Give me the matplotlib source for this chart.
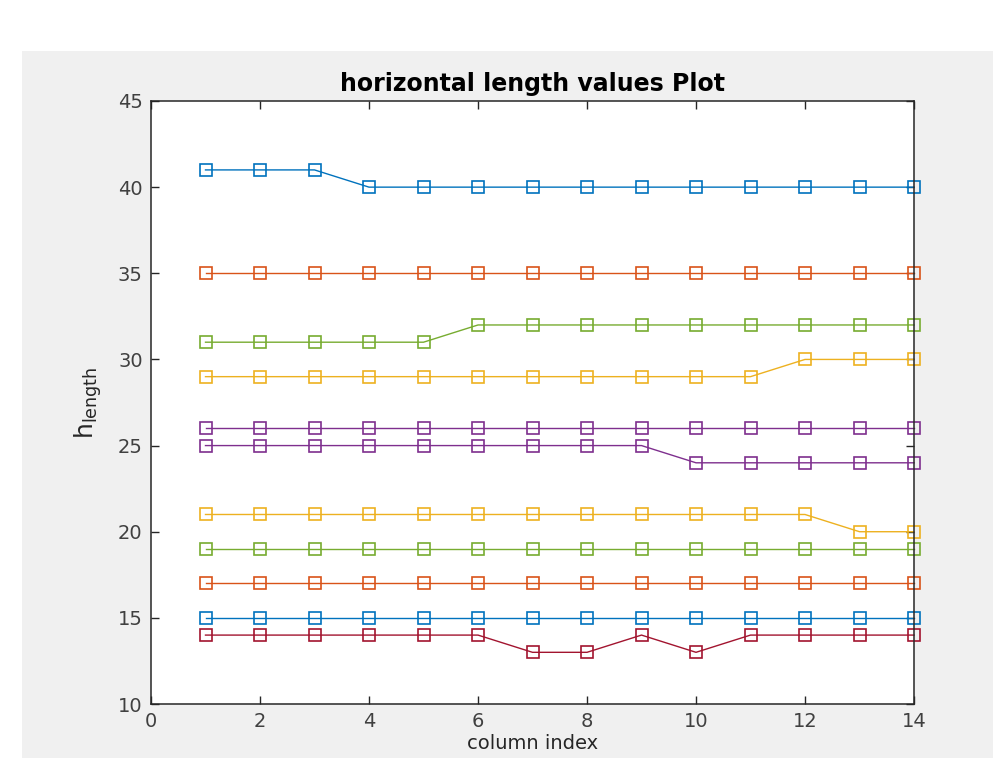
import numpy as np
import matplotlib
matplotlib.use('Agg')
from matplotlib import pyplot as plt
from matplotlib.patches import Rectangle

cols = np.arange(1, 15)

h_blue1 = [41, 41, 41, 40, 40, 40, 40, 40, 40, 40, 40, 40, 40, 40]
h_orange1 = [35, 35, 35, 35, 35, 35, 35, 35, 35, 35, 35, 35, 35, 35]
h_green1 = [31, 31, 31, 31, 31, 32, 32, 32, 32, 32, 32, 32, 32, 32]
h_yellow1 = [29, 29, 29, 29, 29, 29, 29, 29, 29, 29, 29, 30, 30, 30]
h_purple1 = [26, 26, 26, 26, 26, 26, 26, 26, 26, 26, 26, 26, 26, 26]
h_purple2 = [25, 25, 25, 25, 25, 25, 25, 25, 25, 24, 24, 24, 24, 24]
h_yellow2 = [21, 21, 21, 21, 21, 21, 21, 21, 21, 21, 21, 21, 20, 20]
h_green2 = [19, 19, 19, 19, 19, 19, 19, 19, 19, 19, 19, 19, 19, 19]
h_orange2 = [17, 17, 17, 17, 17, 17, 17, 17, 17, 17, 17, 17, 17, 17]
h_blue2 = [15, 15, 15, 15, 15, 15, 15, 15, 15, 15, 15, 15, 15, 15]
h_red = [14, 14, 14, 14, 14, 14, 13, 13, 14, 13, 14, 14, 14, 14]

series = [
    (h_blue1, '#0072BD'),
    (h_orange1, '#D95319'),
    (h_green1, '#77AC30'),
    (h_yellow1, '#EDB120'),
    (h_purple1, '#7E2F8E'),
    (h_purple2, '#7E2F8E'),
    (h_yellow2, '#EDB120'),
    (h_green2, '#77AC30'),
    (h_orange2, '#D95319'),
    (h_blue2, '#0072BD'),
    (h_red, '#A2142F'),
]

fig = plt.figure(figsize=(9.93, 7.58), dpi=100, facecolor='white')
# grey figure window area
fig.patches.append(Rectangle((22 / 993, 0), 1, 1 - 51 / 758, transform=fig.transFigure,
                             facecolor='#f0f0f0', edgecolor='none', zorder=-10))

ax = fig.add_axes([151 / 993, 1 - 704 / 758, (914 - 151) / 993, (704 - 101) / 758])
ax.set_zorder(1)
ax.set_facecolor('white')

for vals, c in series:
    ax.plot(cols, vals, color=c, linewidth=1.0, marker='s', markersize=8.5,
            markerfacecolor='none', markeredgewidth=1.2, clip_on=False)

ax.set_xlim(0, 14)
ax.set_ylim(10, 45)
ax.set_xticks(np.arange(0, 15, 2))
ax.set_yticks(np.arange(10, 46, 5))
ax.tick_params(direction='in', length=6, width=1, colors='#262626', labelcolor='#404040',
               labelsize=14, top=True, right=True, pad=6)
for s in ax.spines.values():
    s.set_color('#262626')
    s.set_linewidth(1.1)

ax.set_title('horizontal length values Plot', fontsize=17, fontweight='bold', pad=7)
ax.set_ylabel('h$_{\\mathrm{length}}$', fontsize=18, color='#262626', labelpad=10)
ax.set_xlabel('column index', fontsize=14, color='#262626', labelpad=2)

fig.savefig('out.png', dpi=100, facecolor='white')
